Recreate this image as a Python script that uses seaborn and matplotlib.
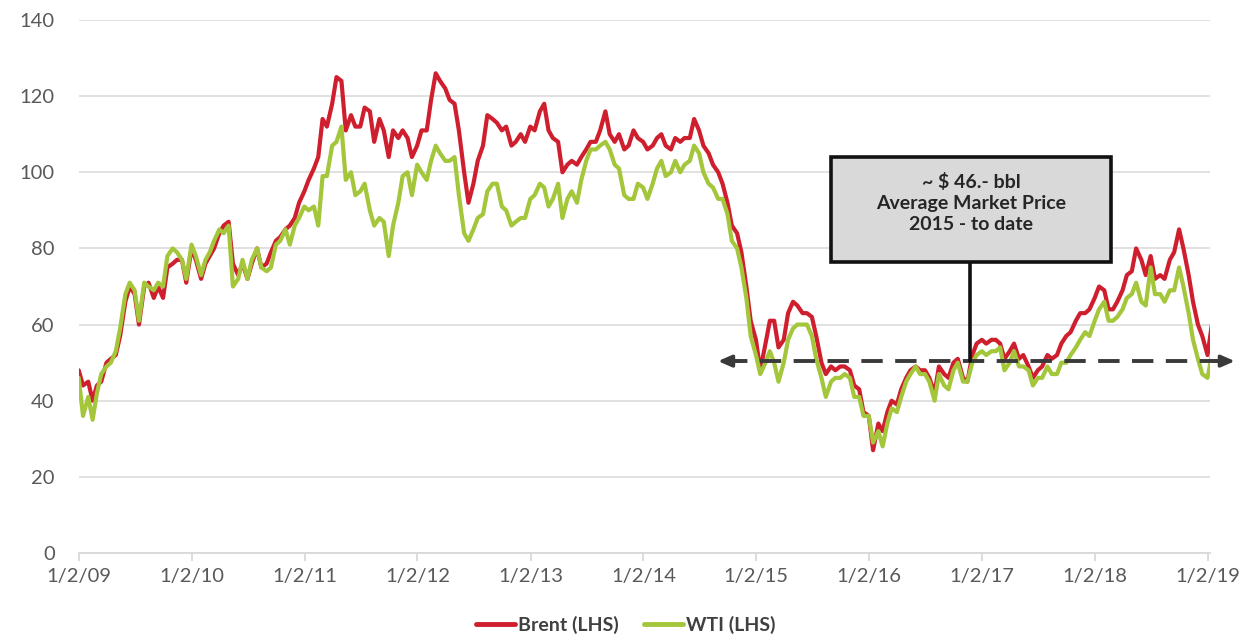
import pandas as pd
import matplotlib
matplotlib.use("Agg")
import matplotlib.pyplot as plt
from matplotlib.patches import Rectangle
from matplotlib.lines import Line2D
import seaborn as sns

# Semi-monthly readings (1st / 15th of each month), USD per barrel
brent = [
    48, 44, 45, 40, 44, 45, 50, 51, 52, 57, 66, 70, 68, 60, 70, 71, 67, 70, 67, 75, 76, 77, 77, 71,   # 2009
    80, 77, 72, 76, 78, 80, 84, 86, 87, 76, 73, 76, 72, 76, 80, 75, 76, 79, 82, 83, 85, 86, 88, 92,   # 2010
    95, 98, 101, 104, 114, 112, 118, 125, 124, 111, 115, 112, 112, 117, 116, 108, 114, 111, 104, 111, 109, 111, 109, 104,  # 2011
    107, 111, 111, 119, 126, 124, 122, 119, 118, 111, 100, 92, 97, 103, 107, 115, 114, 113, 111, 112, 107, 108, 110, 108,  # 2012
    112, 111, 116, 118, 111, 109, 108, 100, 102, 103, 102, 104, 106, 108, 108, 111, 116, 110, 108, 110, 106, 107, 111, 109,  # 2013
    108, 106, 107, 109, 110, 107, 106, 109, 108, 109, 109, 114, 111, 107, 105, 102, 100, 97, 92, 86, 84, 79, 70, 61,   # 2014
    56, 48, 55, 61, 61, 54, 56, 63, 66, 65, 63, 63, 62, 57, 50, 47, 49, 48, 49, 49, 48, 44, 43, 37,   # 2015
    36, 27, 34, 32, 37, 40, 39, 43, 46, 48, 49, 48, 48, 46, 42, 49, 47, 46, 50, 51, 46, 45, 52, 55,   # 2016
    56, 55, 56, 56, 55, 51, 53, 55, 51, 52, 49, 46, 48, 49, 52, 51, 52, 55, 57, 58, 61, 63, 63, 64,   # 2017
    67, 70, 69, 64, 64, 66, 69, 73, 74, 80, 77, 73, 78, 72, 73, 72, 77, 79, 85, 80, 73, 66, 60, 57,   # 2018
    52, 60,                                                                                          # 2019
]
wti = [
    46, 36, 41, 35, 42, 47, 49, 50, 53, 59, 68, 71, 69, 61, 71, 70, 69, 71, 70, 78, 80, 79, 77, 72,   # 2009
    81, 78, 73, 77, 79, 82, 85, 84, 86, 70, 72, 77, 72, 77, 80, 75, 74, 75, 81, 82, 85, 81, 86, 88,   # 2010
    91, 90, 91, 86, 99, 99, 107, 108, 112, 98, 100, 94, 95, 97, 90, 86, 88, 87, 78, 86, 92, 99, 100, 94,  # 2011
    102, 100, 98, 103, 107, 105, 103, 103, 104, 94, 84, 82, 85, 88, 89, 95, 97, 97, 91, 90, 86, 87, 88, 88,  # 2012
    93, 94, 97, 96, 91, 93, 97, 88, 93, 95, 92, 98, 103, 106, 106, 107, 108, 106, 102, 101, 94, 93, 93, 97,  # 2013
    96, 93, 97, 101, 103, 99, 100, 103, 100, 102, 103, 107, 105, 100, 97, 96, 93, 93, 89, 82, 80, 75, 67, 57,   # 2014
    52, 47, 50, 53, 50, 45, 50, 56, 59, 60, 60, 60, 57, 51, 46, 41, 45, 46, 46, 47, 46, 41, 41, 36,   # 2015
    36, 29, 32, 28, 34, 38, 37, 41, 45, 47, 49, 47, 47, 45, 40, 47, 44, 43, 48, 50, 45, 45, 50, 52,   # 2016
    53, 52, 53, 53, 54, 48, 50, 53, 49, 49, 48, 44, 46, 46, 49, 47, 47, 50, 50, 52, 54, 56, 58, 57,   # 2017
    61, 64, 66, 61, 61, 62, 64, 67, 68, 71, 66, 65, 75, 68, 68, 66, 69, 69, 75, 70, 63, 56, 51, 47,   # 2018
    46, 52,                                                                                          # 2019
]
dates = pd.date_range("2009-01-01", periods=len(brent), freq="SMS")

tick_years = list(range(2009, 2020))
tick_labels = [f"1/2/{y % 100:02d}" for y in tick_years]

avg_price = 50.4  # level of the dashed "average" arrow as drawn
box_text = "~ $ 46.- bbl\nAverage Market Price\n2015 - to date"

df = pd.DataFrame({"date": list(dates) * 2,
                   "price": brent + wti,
                   "series": ["Brent (LHS)"] * len(brent) + ["WTI (LHS)"] * len(wti)})

RED = "#cf1f2e"
GREEN = "#a3c63b"

sns.set_style("white")
plt.rcParams["font.family"] = ["Lato", "DejaVu Sans"]

fig = plt.figure(figsize=(12.39, 6.35), dpi=100)
ax = fig.add_axes([79 / 1239, 1 - 553 / 635, 1131 / 1239, 533 / 635])

sns.lineplot(data=df, x="date", y="price", hue="series",
             palette={"Brent (LHS)": RED, "WTI (LHS)": GREEN},
             linewidth=3.0, legend=False, ax=ax)

ax.set_ylim(0, 140)
ax.set_yticks(range(0, 141, 20))
ax.set_xlim(pd.Timestamp("2009-01-02"), pd.Timestamp("2019-01-09"))
ax.set_xticks([pd.Timestamp(f"{y}-01-02") for y in tick_years])
ax.set_xticklabels(tick_labels)
ax.set_xlabel("")
ax.set_ylabel("")

ax.grid(axis="y", color="#d9d9d9", linewidth=1.1)
ax.set_axisbelow(True)
for s in ["left", "right", "top"]:
    ax.spines[s].set_visible(False)
ax.spines["bottom"].set_color("#d9d9d9")
ax.spines["bottom"].set_linewidth(1.3)
ax.tick_params(axis="x", bottom=True, length=6, width=1.3, color="#d9d9d9",
               labelsize=14.5, labelcolor="#595959", pad=5)
ax.tick_params(axis="y", left=False, labelsize=14.5, labelcolor="#595959", pad=14)

# dashed average arrow
y_frac = avg_price / 140
ax.plot([0.572, 1.012], [y_frac, y_frac], transform=ax.transAxes, clip_on=False,
        color="#3a3a3a", linewidth=2.8, dashes=(5.5, 3.2), zorder=5)
for x_tip, x_tail in [(0.565, 0.585), (1.022, 1.002)]:
    ax.annotate("", xy=(x_tip, y_frac), xytext=(x_tail, y_frac),
                xycoords="axes fraction", annotation_clip=False,
                arrowprops=dict(arrowstyle="-|>,head_length=0.8,head_width=0.35",
                                color="#3a3a3a", lw=2.5, shrinkA=0, shrinkB=0),
                zorder=6)

# call-out box with connector
ax.plot([0.788, 0.788], [0.546, y_frac], transform=ax.transAxes, clip_on=False,
        color="#111111", linewidth=2.6, zorder=6)
ax.add_patch(Rectangle((0.665, 0.546), 0.2475, 0.197, transform=ax.transAxes,
                       facecolor="#d9d9d9", edgecolor="#111111", linewidth=2.6,
                       clip_on=False, zorder=7))
ax.text(0.789, 0.657, box_text, transform=ax.transAxes, ha="center", va="center",
        fontsize=14, fontweight="bold", color="#262626", linespacing=1.3, zorder=8)

handles = [Line2D([], [], color=RED, linewidth=3.5), Line2D([], [], color=GREEN, linewidth=3.5)]
fig.legend(handles, ["Brent (LHS)", "WTI (LHS)"], loc="center",
           bbox_to_anchor=(626 / 1239, 1 - 625 / 635), ncol=2, frameon=False,
           handlelength=2.0, handletextpad=0.15, columnspacing=1.3,
           prop={"size": 14, "weight": "bold"}, labelcolor="#404040")

fig.savefig("out.png", dpi=100)
